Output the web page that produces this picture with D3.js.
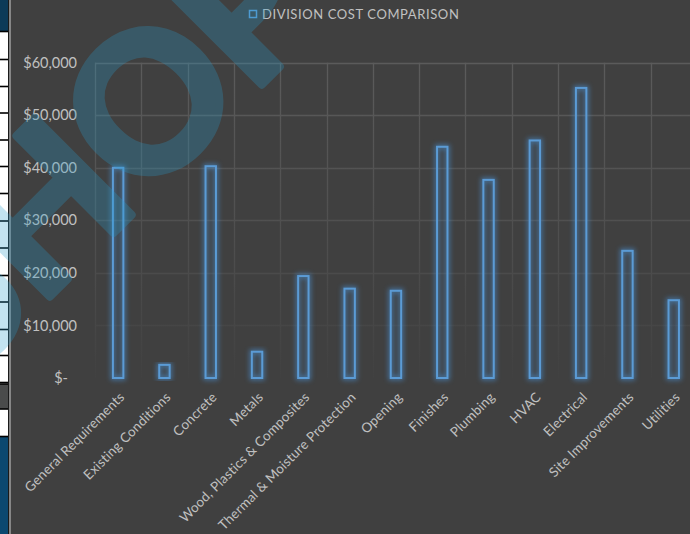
<!DOCTYPE html>
<html>
<head>
<meta charset="utf-8">
<script src="https://cdn.jsdelivr.net/npm/d3@7"></script>
<style>
  html, body { margin: 0; padding: 0; background: #404040; }
  svg { display: block; }
  text { font-family: Lato, "Open Sans", sans-serif; }
</style>
</head>
<body>
<div class="canvas"></div>
<script>
const categories = [
  'General Requirements', 'Existing Conditions', 'Concrete', 'Metals',
  'Wood, Plastics & Composites', 'Thermal & Moisture Protection', 'Opening',
  'Finishes', 'Plumbing', 'HVAC', 'Electrical', 'Site Improvements', 'Utilities'
];
const costs = [40000, 2500, 40300, 5000, 19400, 17000, 16600, 44000, 37700, 45200, 55200, 24200, 14800];
const yTicks = [0, 10000, 20000, 30000, 40000, 50000, 60000];
const seriesName = 'DIVISION COST COMPARISON';

const WIDTH = 690, HEIGHT = 534;
const MARGIN = { left: 95, top: 62.7, bottom: 156 };
const BAND = 46.3;
const GRAPH_HEIGHT = HEIGHT - MARGIN.top - MARGIN.bottom;

const svg = d3.select('.canvas').append('svg')
  .attr('width', WIDTH)
  .attr('height', HEIGHT);

const defs = svg.append('defs');

// glow round the bar outlines
const glow = defs.append('filter').attr('id', 'glow')
  .attr('x', '-80%').attr('y', '-20%').attr('width', '260%').attr('height', '140%');
glow.append('feGaussianBlur').attr('in', 'SourceGraphic').attr('stdDeviation', 2.4);

// gridlines fade out toward the bottom
const fade = defs.append('linearGradient').attr('id', 'gridFade')
  .attr('gradientUnits', 'userSpaceOnUse')
  .attr('x1', 0).attr('x2', 0).attr('y1', MARGIN.top).attr('y2', MARGIN.top + GRAPH_HEIGHT);
fade.append('stop').attr('offset', 0).attr('stop-color', '#5b5b5b');
fade.append('stop').attr('offset', 0.55).attr('stop-color', '#4f4f4f');
fade.append('stop').attr('offset', 1).attr('stop-color', '#414141');

svg.append('rect').attr('width', WIDTH).attr('height', HEIGHT).attr('fill', '#404040');

//spreadsheet cells peeking in at the left edge
const strip = svg.append('g');
strip.append('rect').attr('x', 0).attr('y', 0).attr('width', 8.5).attr('height', HEIGHT).attr('fill', '#ffffff');
strip.append('rect').attr('x', 0).attr('y', 0).attr('width', 8.5).attr('height', 31).attr('fill', '#0c3a58');
strip.append('rect').attr('x', 0).attr('y', 384).attr('width', 8.5).attr('height', 25).attr('fill', '#4a4b4b');
strip.append('rect').attr('x', 0).attr('y', 437).attr('width', 8.5).attr('height', HEIGHT - 437).attr('fill', '#0b4870');
[31.5, 59.5, 86.5, 113, 140, 166.5, 193.5, 221, 248, 275.5, 302, 329.5, 355.5, 382.5, 384, 409, 436.5].forEach(yy => {
  strip.append('line').attr('x1', 0).attr('x2', 8.5).attr('y1', yy).attr('y2', yy)
    .attr('stroke', '#000').attr('stroke-width', 1.6);
});
strip.append('line').attr('x1', 8.6).attr('x2', 8.6).attr('y1', 0).attr('y2', HEIGHT).attr('stroke', '#1a1a1a').attr('stroke-width', 1.2);
strip.append('line').attr('x1', 10).attr('x2', 10).attr('y1', 0).attr('y2', HEIGHT).attr('stroke', '#a6a6a6').attr('stroke-width', 1.4);

//scales
const x = d3.scaleBand()
  .domain(categories)
  .range([MARGIN.left, MARGIN.left + BAND * categories.length])
  .padding(0);
const y = d3.scaleLinear()
  .domain([0, 60000])
  .range([MARGIN.top + GRAPH_HEIGHT, MARGIN.top]);

//gridlines
const grid = svg.append('g').attr('class', 'grid');
grid.selectAll('line.h')
  .data(yTicks.filter(d => d > 0))
  .join('line')
  .attr('class', 'h')
  .attr('x1', MARGIN.left).attr('x2', WIDTH)
  .attr('y1', d => Math.round(y(d)) + 0.5).attr('y2', d => Math.round(y(d)) + 0.5)
  .attr('stroke', 'url(#gridFade)').attr('stroke-width', 1.3);
grid.selectAll('line.v')
  .data(categories)
  .join('line')
  .attr('class', 'v')
  .attr('x1', d => Math.round(x(d)) + 0.5).attr('x2', d => Math.round(x(d)) + 0.5)
  .attr('y1', y(60000)).attr('y2', y(0))
  .attr('stroke', 'url(#gridFade)').attr('stroke-width', 1.3);

//y axis labels
const fmt = d => d === 0 ? '$-' : '$' + d3.format(',')(d);
svg.append('g')
  .attr('class', 'y-axis')
  .attr('transform', `translate(${MARGIN.left - 18}, 0)`)
  .call(d3.axisLeft(y).tickValues(yTicks).tickFormat(fmt).tickSize(0).tickPadding(0))
  .call(g => g.select('.domain').remove())
  .call(g => g.selectAll('text')
    .attr('fill', '#c0c0c0')
    .attr('font-size', 14.5)
    .attr('font-family', 'Lato, sans-serif')
    .attr('dx', d => d === 0 ? -9 : 0));

//category labels
svg.append('g')
  .attr('class', 'x-axis')
  .selectAll('text')
  .data(categories)
  .join('text')
  .attr('transform', d => `translate(${x(d) + x.bandwidth() / 2 + 7}, ${y(0) + 20}) rotate(-45)`)
  .attr('text-anchor', 'end')
  .attr('fill', '#c0c0c0')
  .attr('font-size', 13.4)
  .attr('letter-spacing', 0.2)
  .text(d => d);

//bars
const barW = x.bandwidth() * 0.225;
const bars = svg.append('g').attr('class', 'bars');
bars.selectAll('rect.glow')
  .data(costs)
  .join('rect')
  .attr('class', 'glow')
  .attr('x', (d, i) => x(categories[i]) + (x.bandwidth() - barW) / 2)
  .attr('y', d => y(d))
  .attr('width', barW)
  .attr('height', d => y(0) - y(d))
  .attr('fill', 'none')
  .attr('stroke', '#4a8fd0')
  .attr('stroke-width', 4.5)
  .attr('opacity', 0.65)
  .attr('filter', 'url(#glow)');
bars.selectAll('rect.bar')
  .data(costs)
  .join('rect')
  .attr('class', 'bar')
  .attr('x', (d, i) => x(categories[i]) + (x.bandwidth() - barW) / 2)
  .attr('y', d => y(d))
  .attr('width', barW)
  .attr('height', d => y(0) - y(d))
  .attr('fill', 'none')
  .attr('stroke', '#5b9bd5')
  .attr('stroke-width', 2);

//legend / title
const legend = svg.append('g').attr('class', 'legend').attr('transform', 'translate(249.5, 10.5)');
legend.append('rect').attr('width', 7).attr('height', 7)
  .attr('fill', 'none').attr('stroke', '#5b9bd5').attr('stroke-width', 1.5);
legend.append('text').attr('x', 12.5).attr('y', 8)
  .attr('fill', '#c0c0c0').attr('font-size', 13)
  .attr('letter-spacing', 0.6)
  .text(seriesName);

//watermark laid over everything, its "O" centred near (147, 100)
const mark = svg.append('g')
  .attr('transform', 'translate(147, 100) rotate(-45)')
  .attr('opacity', 0.28)
  .style('pointer-events', 'none');
const markText = mark.append('text')
  .attr('font-family', '"DejaVu Sans", sans-serif')
  .attr('font-weight', 'bold')
  .attr('font-size', 190)
  .attr('fill', '#2a9ccb')
  .attr('stroke', '#2a9ccb')
  .attr('stroke-width', 8)
  .attr('stroke-linejoin', 'round')
  .text('SHOP');
const oBox = markText.node().getExtentOfChar(2);
markText
  .attr('x', -(oBox.x + oBox.width / 2))
  .attr('y', 190 * 0.37);
</script>
</body>
</html>
